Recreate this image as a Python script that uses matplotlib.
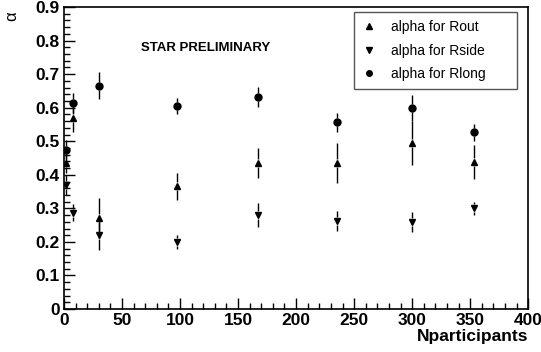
import numpy as np
import matplotlib
matplotlib.use("Agg")
import matplotlib.pyplot as plt
from matplotlib.lines import Line2D
from matplotlib.ticker import MultipleLocator

plt.rcParams["font.family"] = ["Liberation Sans", "DejaVu Sans"]

# data
npart = [2, 8, 30, 97, 167, 235, 300, 353]

rout = [0.435, 0.569, 0.271, 0.366, 0.435, 0.435, 0.495, 0.438]
rout_err = [0.03, 0.04, 0.06, 0.04, 0.045, 0.06, 0.065, 0.05]

rside = [0.370, 0.287, 0.220, 0.200, 0.280, 0.262, 0.260, 0.300]
rside_err = [0.03, 0.025, 0.045, 0.02, 0.035, 0.03, 0.03, 0.02]

rlong = [0.474, 0.614, 0.665, 0.605, 0.632, 0.557, 0.599, 0.527]
rlong_err = [0.03, 0.03, 0.04, 0.025, 0.03, 0.028, 0.04, 0.025]

series = [
    ("alpha for Rout", rout, rout_err, "^", 5),
    ("alpha for Rside", rside, rside_err, "v", 5),
    ("alpha for Rlong", rlong, rlong_err, "o", 5),
]

fig = plt.figure(figsize=(5.41, 3.52), dpi=100)
ax = fig.add_axes([0.1183, 0.122, 0.858, 0.858])

gap = 0.012  # ROOT-style gap in the error bar around the marker
handles = []
for label, vals, errs, marker, ms in series:
    x = np.array(npart, dtype=float)
    y = np.array(vals)
    e = np.array(errs)
    g = np.minimum(gap, e)
    ax.vlines(x, y + g, y + e, color="black", lw=1)
    ax.vlines(x, y - e, y - g, color="black", lw=1)
    ax.plot(x, y, ls="none", marker=marker, ms=ms, color="black", zorder=3)
    handles.append(Line2D([], [], ls="none", marker=marker, ms=ms - 1, color="black", label=label))

ax.set_xlim(0, 400)
ax.set_ylim(0, 0.9)
ax.xaxis.set_major_locator(MultipleLocator(50))
ax.xaxis.set_minor_locator(MultipleLocator(10))
ax.yaxis.set_major_locator(MultipleLocator(0.1))
ax.yaxis.set_minor_locator(MultipleLocator(0.02))
ax.yaxis.set_major_formatter(plt.FuncFormatter(lambda v, p: "0" if abs(v) < 1e-9 else f"{v:.1f}"))
ax.tick_params(which="both", direction="in", top=False, right=False, width=1)
ax.tick_params(which="major", length=8, labelsize=12.5, pad=3)
ax.tick_params(which="minor", length=4)
for lab in ax.get_xticklabels() + ax.get_yticklabels():
    lab.set_fontweight("bold")
for sp in ax.spines.values():
    sp.set_linewidth(1.2)

ax.text(400, -0.06, "Nparticipants", ha="right", va="top", fontsize=12.5,
        fontweight="bold", transform=ax.transData, clip_on=False)
fig.text(0.022, 0.955, "\u03b1", rotation=90, ha="center", va="center", fontsize=12)

ax.text(0.166, 0.865, "STAR PRELIMINARY", transform=ax.transAxes, fontsize=9.5,
        fontweight="bold", ha="left", va="center")

leg = ax.legend(handles=handles, loc="upper left", mode="expand",
                bbox_to_anchor=(0.625, 0.732, 0.351, 0.251), fontsize=10,
                frameon=True, fancybox=False, framealpha=1, edgecolor="#555555",
                borderpad=0.55, labelspacing=0.7, handlelength=1.0, handletextpad=1.1,
                borderaxespad=0)
leg.get_frame().set_linewidth(1)

fig.savefig("out.png", dpi=100)
